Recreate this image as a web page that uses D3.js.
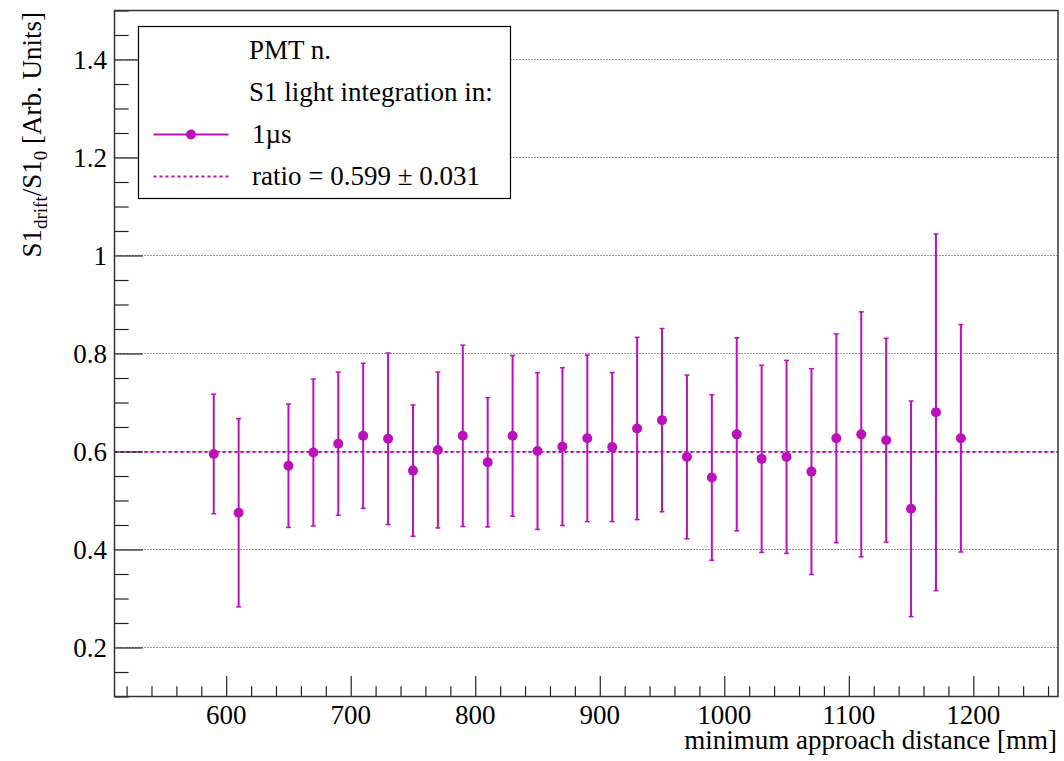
<!DOCTYPE html>
<html>
<head>
<meta charset="utf-8">
<script src="https://cdn.jsdelivr.net/npm/d3@7"></script>
<style>
  html, body { margin: 0; padding: 0; background: #fff; }
  svg { display: block; }
</style>
</head>
<body>
<svg id="chart" width="1064" height="761"></svg>
<script>
// S1 ratio vs. minimum approach distance (1 µs integration window)
const distances = [590, 610, 650, 670, 690, 710, 730, 750, 770, 790,
                   810, 830, 850, 870, 890, 910, 930, 950, 970, 990,
                   1010, 1030, 1050, 1070, 1090, 1110, 1130, 1150, 1170, 1190];
const ratios = [0.595, 0.475, 0.571, 0.598, 0.616, 0.632, 0.626, 0.561, 0.603, 0.632,
                0.578, 0.632, 0.601, 0.610, 0.627, 0.609, 0.647, 0.664, 0.589, 0.547,
                0.635, 0.585, 0.589, 0.559, 0.627, 0.635, 0.623, 0.483, 0.680, 0.627];
const ratioErrors = [0.122, 0.192, 0.126, 0.150, 0.146, 0.148, 0.175, 0.134, 0.159, 0.185,
                     0.132, 0.164, 0.160, 0.161, 0.170, 0.152, 0.186, 0.187, 0.167, 0.169,
                     0.197, 0.191, 0.197, 0.210, 0.213, 0.250, 0.208, 0.220, 0.364, 0.232];
const fitRatio = 0.599;
const fitError = 0.031;

const xMajorTicks = [600, 700, 800, 900, 1000, 1100, 1200];
const xTickLabels = ["600", "700", "800", "900", "1000", "1100", "1200"];
const yMajorTicks = [0.2, 0.4, 0.6, 0.8, 1.0, 1.2, 1.4];
const yTickLabels = ["0.2", "0.4", "0.6", "0.8", "1", "1.2", "1.4"];

const legendHeader = ["PMT n.", "S1 light integration in:"];
const seriesLabel = " 1\u00b5s";
const fitLabel = " ratio = " + fitRatio.toFixed(3) + " \u00b1 " + fitError.toFixed(3);

const COLOR = "#bb11bb";
const FONT = "'Liberation Serif', 'DejaVu Serif', serif";
const frame = { left: 114.5, right: 1058, top: 10.5, bottom: 696.5 };

const svg = d3.select("#chart")
  .attr("font-family", FONT);

const x = d3.scaleLinear().domain([510.3, 1268]).range([frame.left, frame.right]);
const y = d3.scaleLinear().domain([0.1, 1.5]).range([frame.bottom, frame.top]);

const plotW = frame.right - frame.left;
const plotH = frame.bottom - frame.top;

function label(sel) {
  return sel.attr("font-family", FONT).attr("fill", "#000");
}

// horizontal dotted grid at the major y ticks
svg.append("g")
  .selectAll("line")
  .data(yMajorTicks)
  .join("line")
  .attr("x1", frame.left).attr("x2", frame.right)
  .attr("y1", d => y(d)).attr("y2", d => y(d))
  .attr("stroke", "#333")
  .attr("stroke-width", 1)
  .attr("stroke-dasharray", "1,2");

// fitted constant
svg.append("line")
  .attr("x1", frame.left).attr("x2", frame.right)
  .attr("y1", y(fitRatio)).attr("y2", y(fitRatio))
  .attr("stroke", COLOR)
  .attr("stroke-width", 2)
  .attr("stroke-dasharray", "3,3");

// y axis: ticks drawn inward, ROOT style
const yMinor = d3.range(0.1, 1.5001, 0.05).map(v => +v.toFixed(2));
const yAxis = d3.axisRight(y)
  .tickValues(yMinor)
  .tickSize(0)
  .tickFormat("");
const yG = svg.append("g").attr("transform", `translate(${frame.left},0)`).call(yAxis);
yG.select(".domain").remove();
yG.selectAll(".tick line")
  .attr("x2", d => yMajorTicks.some(m => Math.abs(m - d) < 1e-6) ? 0.03 * plotW : 0.015 * plotW)
  .attr("stroke", "#222")
  .attr("stroke-width", 1.2);

svg.append("g")
  .selectAll("text")
  .data(yMajorTicks)
  .join("text")
  .call(label)
  .attr("x", 107)
  .attr("y", d => y(d))
  .attr("dy", "0.35em")
  .attr("text-anchor", "end")
  .attr("font-size", 27)
  .text((d, i) => yTickLabels[i]);

// x axis: ticks drawn inward
const xMinor = d3.range(520, 1268, 20);
const xAxis = d3.axisTop(x)
  .tickValues(xMinor)
  .tickSize(0)
  .tickFormat("");
const xG = svg.append("g").attr("transform", `translate(0,${frame.bottom})`).call(xAxis);
xG.select(".domain").remove();
xG.selectAll(".tick line")
  .attr("y2", d => xMajorTicks.includes(d) ? -0.03 * plotH : -0.015 * plotH)
  .attr("stroke", "#222")
  .attr("stroke-width", 1.2);

svg.append("g")
  .selectAll("text")
  .data(xMajorTicks)
  .join("text")
  .call(label)
  .attr("x", d => x(d))
  .attr("y", 724)
  .attr("text-anchor", "middle")
  .attr("font-size", 27)
  .text((d, i) => xTickLabels[i]);

// frame
svg.append("rect")
  .attr("x", frame.left).attr("y", frame.top)
  .attr("width", plotW).attr("height", plotH)
  .attr("fill", "none")
  .attr("stroke", "#333")
  .attr("stroke-width", 1.5);

// error bars and markers
const pts = distances.map((d, i) => ({ x: d, y: ratios[i], e: ratioErrors[i] }));
const gPts = svg.append("g");
gPts.selectAll("line.bar")
  .data(pts)
  .join("line")
  .attr("class", "bar")
  .attr("x1", d => x(d.x)).attr("x2", d => x(d.x))
  .attr("y1", d => y(d.y - d.e)).attr("y2", d => y(d.y + d.e))
  .attr("stroke", COLOR)
  .attr("stroke-width", 2);
["lo", "hi"].forEach(side => {
  gPts.selectAll("line.cap-" + side)
    .data(pts)
    .join("line")
    .attr("class", "cap-" + side)
    .attr("x1", d => x(d.x) - 2.5).attr("x2", d => x(d.x) + 2.5)
    .attr("y1", d => y(side === "lo" ? d.y - d.e : d.y + d.e))
    .attr("y2", d => y(side === "lo" ? d.y - d.e : d.y + d.e))
    .attr("stroke", COLOR)
    .attr("stroke-width", 1.5);
});
gPts.selectAll("circle")
  .data(pts)
  .join("circle")
  .attr("cx", d => x(d.x))
  .attr("cy", d => y(d.y))
  .attr("r", 5)
  .attr("fill", COLOR);

// axis titles
svg.append("text")
  .call(label)
  .attr("x", 1057)
  .attr("y", 749)
  .attr("text-anchor", "end")
  .attr("font-size", 27)
  .text("minimum approach distance [mm]");

const yTitle = svg.append("text")
  .call(label)
  .attr("transform", "translate(41,12) rotate(-90)")
  .attr("text-anchor", "end")
  .attr("font-size", 27);
yTitle.append("tspan").text("S1");
yTitle.append("tspan").attr("font-size", 19).attr("dy", 6).text("drift");
yTitle.append("tspan").attr("dy", -6).text("/S1");
yTitle.append("tspan").attr("font-size", 19).attr("dy", 6).text("0");
yTitle.append("tspan").attr("dy", -6).text(" [Arb. Units]");

// legend
const leg = svg.append("g");
leg.append("rect")
  .attr("x", 138.5).attr("y", 26.5)
  .attr("width", 372).attr("height", 172)
  .attr("fill", "#fff")
  .attr("stroke", "#000")
  .attr("stroke-width", 1.2);
leg.selectAll("text.hdr")
  .data(legendHeader)
  .join("text")
  .call(label)
  .attr("class", "hdr")
  .attr("x", 249)
  .attr("y", (d, i) => 59 + i * 42)
  .attr("font-size", 27)
  .text(d => d);
leg.append("line")
  .attr("x1", 153.5).attr("x2", 228.5)
  .attr("y1", 134.5).attr("y2", 134.5)
  .attr("stroke", COLOR).attr("stroke-width", 2);
leg.append("circle")
  .attr("cx", 191).attr("cy", 134.5).attr("r", 5)
  .attr("fill", COLOR);
leg.append("text")
  .call(label)
  .attr("x", 252).attr("y", 143)
  .attr("font-size", 27)
  .text(seriesLabel);
leg.append("line")
  .attr("x1", 153.5).attr("x2", 228.5)
  .attr("y1", 176.5).attr("y2", 176.5)
  .attr("stroke", COLOR).attr("stroke-width", 2)
  .attr("stroke-dasharray", "3,3");
leg.append("text")
  .call(label)
  .attr("x", 252).attr("y", 185)
  .attr("font-size", 27)
  .text(fitLabel);
</script>
</body>
</html>
